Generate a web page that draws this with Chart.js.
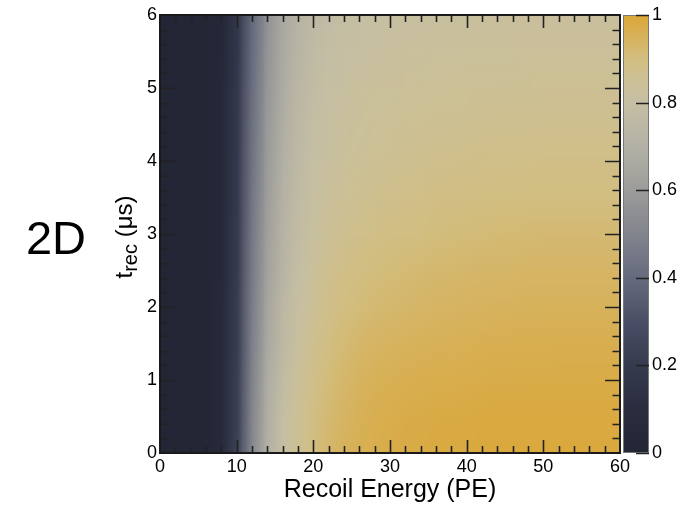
<!DOCTYPE html>
<html>
<head>
<meta charset="utf-8">
<script src="https://cdn.jsdelivr.net/npm/chart.js@4.4.0/dist/chart.umd.min.js"></script>
<style>
  html, body { margin: 0; padding: 0; background: #fff; }
  #wrap { width: 687px; height: 505px; }
</style>
</head>
<body>
<div id="wrap"><canvas id="eff" width="687" height="505"></canvas></div>
<script>
// recoil energy nodes (PE)
var energyPE = [0, 2, 4, 6, 8, 10, 12, 14, 16, 18, 20, 22, 24, 26, 28, 30,
  32, 34, 36, 38, 40, 42, 44, 46, 48, 50, 52, 54, 56, 58, 60]
// recoil time nodes (us)
var timeUS = [0, 0.5, 1, 1.5, 2, 2.5, 3, 3.5, 4, 4.5, 5, 5.5, 6]
// efficiency, one row per time node, one column per energy node
var efficiency = [
  [0, 0, 0, .01, .05, .24, .52, .70, .80, .86, .90, .93, .95, .96, .97, .975, .98, .98, .985, .985, .985, .99, .99, .99, .99, .99, .99, .99, .99, .99, .99],
  [0, 0, 0, .01, .05, .23, .51, .69, .79, .85, .89, .92, .94, .955, .965, .97, .975, .975, .98, .98, .98, .985, .985, .985, .985, .985, .985, .985, .985, .985, .985],
  [0, 0, 0, .01, .05, .23, .50, .68, .78, .84, .88, .91, .93, .945, .955, .96, .965, .967, .97, .97, .972, .974, .975, .975, .976, .976, .977, .977, .977, .977, .977],
  [0, 0, 0, .01, .05, .22, .49, .66, .76, .82, .865, .895, .915, .93, .94, .945, .95, .953, .955, .957, .96, .962, .963, .964, .965, .965, .966, .966, .966, .966, .966],
  [0, 0, 0, .01, .05, .22, .48, .65, .75, .81, .85, .88, .90, .91, .92, .925, .93, .935, .94, .942, .944, .946, .948, .95, .95, .951, .952, .952, .952, .952, .952],
  [0, 0, 0, .01, .04, .21, .47, .63, .73, .79, .835, .865, .885, .895, .905, .91, .915, .92, .925, .927, .93, .932, .934, .935, .936, .937, .938, .938, .938, .938, .938],
  [0, 0, 0, .01, .04, .21, .46, .62, .72, .78, .82, .85, .865, .875, .885, .89, .895, .90, .905, .908, .91, .913, .915, .917, .918, .919, .92, .92, .92, .92, .92],
  [0, 0, 0, .01, .04, .20, .45, .61, .71, .77, .81, .835, .85, .86, .87, .875, .88, .885, .888, .89, .893, .895, .897, .898, .90, .90, .90, .90, .90, .90, .90],
  [0, 0, 0, .01, .04, .20, .44, .60, .70, .76, .80, .82, .835, .845, .853, .86, .865, .868, .872, .875, .877, .879, .88, .881, .882, .883, .884, .884, .884, .884, .884],
  [0, 0, 0, .01, .04, .19, .43, .59, .69, .75, .79, .81, .825, .835, .842, .848, .852, .855, .858, .86, .862, .864, .865, .866, .867, .868, .868, .868, .868, .868, .868],
  [0, 0, 0, .01, .04, .19, .42, .58, .68, .74, .78, .80, .815, .825, .832, .837, .84, .843, .846, .848, .85, .851, .852, .853, .854, .855, .855, .855, .855, .855, .855],
  [0, 0, 0, .01, .03, .18, .41, .57, .67, .73, .77, .79, .80, .81, .815, .82, .825, .828, .83, .832, .834, .835, .836, .837, .838, .838, .838, .838, .838, .838, .838],
  [0, 0, 0, .01, .03, .17, .40, .56, .66, .72, .76, .78, .79, .80, .805, .81, .812, .815, .817, .819, .82, .821, .822, .823, .824, .824, .824, .824, .824, .824, .824]
]
// colour bar ticks
var zTicks = [0, 0.2, 0.4, 0.6, 0.8, 1]

// grey-to-gold palette (value -> rgb)
var paletteStops = [0, .1, .2, .3, .4, .5, .6, .7, .8, .85, .9, .95, 1]
var paletteRGB = [
  [34, 38, 53], [41, 45, 62], [54, 58, 78], [74, 79, 101], [101, 106, 125],
  [130, 132, 141], [156, 156, 154], [179, 177, 165], [198, 191, 164],
  [204, 192, 150], [210, 190, 128], [215, 178, 92], [219, 167, 54]
]

var FONT = '"Liberation Sans", Arial, Helvetica, sans-serif'

function colorFor (v) {
  if (v <= paletteStops[0]) return paletteRGB[0]
  for (var i = 1; i < paletteStops.length; i++) {
    if (v <= paletteStops[i]) {
      var f = (v - paletteStops[i - 1]) / (paletteStops[i] - paletteStops[i - 1])
      var a = paletteRGB[i - 1], b = paletteRGB[i]
      return [a[0] + f * (b[0] - a[0]), a[1] + f * (b[1] - a[1]), a[2] + f * (b[2] - a[2])]
    }
  }
  return paletteRGB[paletteRGB.length - 1]
}

// 2D map: one pixel per node on a small canvas, stretched over the cells
var heatmap = {
  id: 'heatmap',
  beforeDatasetsDraw: function (chart) {
    var ctx = chart.ctx, area = chart.chartArea
    var xs = chart.scales.x, ys = chart.scales.y
    var nx = energyPE.length, ny = timeUS.length
    var off = document.createElement('canvas')
    off.width = nx
    off.height = ny
    var octx = off.getContext('2d')
    var img = octx.createImageData(nx, ny)
    for (var j = 0; j < ny; j++) {
      var row = efficiency[ny - 1 - j]
      for (var i = 0; i < nx; i++) {
        var c = colorFor(row[i])
        var k = (j * nx + i) * 4
        img.data[k] = c[0]
        img.data[k + 1] = c[1]
        img.data[k + 2] = c[2]
        img.data[k + 3] = 255
      }
    }
    octx.putImageData(img, 0, 0)
    var dx = (energyPE[1] - energyPE[0]) / 2
    var dt = (timeUS[1] - timeUS[0]) / 2
    var x0 = xs.getPixelForValue(energyPE[0] - dx)
    var x1 = xs.getPixelForValue(energyPE[nx - 1] + dx)
    var y0 = ys.getPixelForValue(timeUS[ny - 1] + dt)
    var y1 = ys.getPixelForValue(timeUS[0] - dt)
    ctx.save()
    ctx.beginPath()
    ctx.rect(area.left, area.top, area.right - area.left, area.bottom - area.top)
    ctx.clip()
    ctx.imageSmoothingEnabled = true
    ctx.imageSmoothingQuality = 'low'
    ctx.drawImage(off, x0, y0, x1 - x0, y1 - y0)
    ctx.restore()
  }
}

// frame, inward ticks, colour bar and the extra labels
var decorations = {
  id: 'decorations',
  afterDraw: function (chart) {
    var ctx = chart.ctx, area = chart.chartArea
    var xs = chart.scales.x, ys = chart.scales.y, zs = chart.scales.z
    ctx.save()

    // tick marks on all four sides
    ctx.strokeStyle = '#222'
    ctx.lineWidth = 1.6
    ctx.beginPath()
    for (var e = 2; e < 60; e += 2) {
      var px = Math.round(xs.getPixelForValue(e)) + 0.5
      var len = (e % 10 === 0) ? 13 : 7
      ctx.moveTo(px, area.bottom); ctx.lineTo(px, area.bottom - len)
      ctx.moveTo(px, area.top); ctx.lineTo(px, area.top + len)
    }
    for (var t = 1; t < 30; t++) {
      var py = Math.round(ys.getPixelForValue(t / 5)) + 0.5
      var ylen = (t % 5 === 0) ? 15 : 7.5
      ctx.moveTo(area.left, py); ctx.lineTo(area.left + ylen, py)
      ctx.moveTo(area.right, py); ctx.lineTo(area.right - ylen, py)
    }
    ctx.stroke()

    ctx.lineWidth = 2
    ctx.strokeStyle = '#1a1a1a'
    ctx.strokeRect(area.left, area.top, area.right - area.left, area.bottom - area.top)

    // colour bar
    var cbL = area.right + 3, cbR = area.right + 29
    var zTop = zs.getPixelForValue(1), zBot = zs.getPixelForValue(0)
    var grad = ctx.createLinearGradient(0, zBot, 0, zTop)
    for (var s = 0; s < paletteStops.length; s++) {
      var c = paletteRGB[s]
      grad.addColorStop(paletteStops[s], 'rgb(' + c[0] + ',' + c[1] + ',' + c[2] + ')')
    }
    ctx.fillStyle = grad
    ctx.fillRect(cbL, zTop, cbR - cbL, zBot - zTop)
    ctx.lineWidth = 1
    ctx.strokeStyle = '#777'
    ctx.strokeRect(cbL + 0.5, zTop + 0.5, cbR - cbL - 1, zBot - zTop - 1)
    ctx.strokeStyle = '#222'
    ctx.lineWidth = 1.6
    ctx.beginPath()
    zTicks.forEach(function (v) {
      var py = Math.round(zs.getPixelForValue(v)) + 0.5
      ctx.moveTo(cbR - 13, py); ctx.lineTo(cbR, py)
    })
    ctx.stroke()

    // y title with subscript
    ctx.fillStyle = '#000'
    ctx.textBaseline = 'alphabetic'
    ctx.translate(132, 237)
    ctx.rotate(-Math.PI / 2)
    ctx.font = '24px ' + FONT
    var wT = ctx.measureText('t').width
    var wU = ctx.measureText(' (\u03bcs)').width
    ctx.font = '20px ' + FONT
    var wS = ctx.measureText('rec').width
    var u = -(wT + wS + wU) / 2
    ctx.font = '24px ' + FONT
    ctx.fillText('t', u, 0)
    ctx.font = '20px ' + FONT
    ctx.fillText('rec', u + wT, 5)
    ctx.font = '24px ' + FONT
    ctx.fillText(' (\u03bcs)', u + wT + wS, 0)
    ctx.setTransform(1, 0, 0, 1, 0, 0)

    // panel tag
    ctx.font = '47px ' + FONT
    ctx.textAlign = 'center'
    ctx.textBaseline = 'middle'
    ctx.fillText('2D', 56, 241)
    ctx.restore()
  }
}

var tickFont = { family: FONT, size: 18 }

var chart = new Chart(document.getElementById('eff'), {
  type: 'scatter',
  data: { datasets: [] },
  options: {
    responsive: false,
    animation: false,
    devicePixelRatio: 1,
    layout: { padding: { top: 15, left: 0, right: 0, bottom: 0 } },
    plugins: { legend: { display: false }, tooltip: { enabled: false } },
    scales: {
      x: {
        type: 'linear', position: 'bottom', min: 0, max: 60,
        grid: { display: false, drawTicks: false },
        border: { display: false },
        ticks: { stepSize: 10, font: tickFont, color: '#000', padding: 3, maxRotation: 0, autoSkip: false },
        title: { display: true, text: 'Recoil Energy (PE)', color: '#000', font: { family: FONT, size: 25 }, padding: 0 },
        afterFit: function (s) { s.height = 52 }
      },
      y: {
        type: 'linear', position: 'left', min: 0, max: 6,
        grid: { display: false, drawTicks: false },
        border: { display: false },
        ticks: { stepSize: 1, font: tickFont, color: '#000', padding: 3 },
        afterFit: function (s) { s.width = 160 }
      },
      z: {
        type: 'linear', position: 'right', min: 0, max: 1,
        // tickLength only offsets the labels, the marks themselves are drawn on the bar
        grid: { display: false, drawTicks: true, tickLength: 32 },
        border: { display: false },
        ticks: {
          stepSize: 0.2, font: tickFont, color: '#000', padding: 0,
          callback: function (v) { return String(+v.toFixed(1)) }
        },
        afterFit: function (s) { s.width = 67 }
      }
    }
  },
  plugins: [heatmap, decorations]
})
</script>
</body>
</html>
